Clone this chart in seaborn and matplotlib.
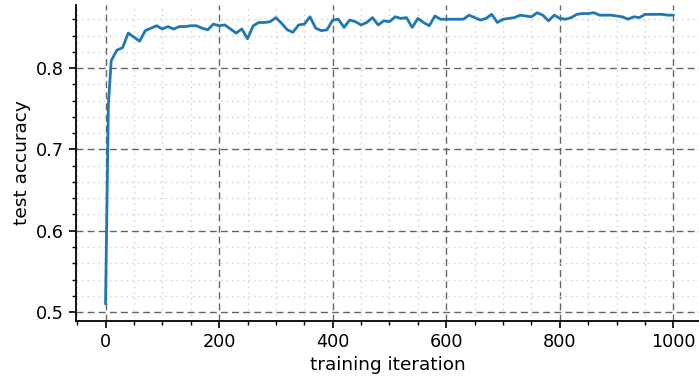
import matplotlib
matplotlib.use("Agg")
import matplotlib.pyplot as plt
import seaborn as sns
import pandas as pd
from matplotlib.ticker import MultipleLocator

iterations = [0, 5] + list(range(10, 1001, 10))
accuracy = [
    0.510, 0.755, 0.809, 0.822, 0.825, 0.843, 0.838, 0.833, 0.846, 0.849,
    0.852, 0.848, 0.851, 0.848, 0.851, 0.851, 0.852, 0.852, 0.849, 0.847,
    0.854, 0.852, 0.853, 0.848, 0.843, 0.848, 0.836, 0.852, 0.856, 0.856,
    0.857, 0.862, 0.855, 0.847, 0.844, 0.853, 0.854, 0.863, 0.849, 0.846,
    0.847, 0.859, 0.860, 0.850, 0.859, 0.857, 0.853, 0.856, 0.862, 0.853,
    0.858, 0.857, 0.863, 0.861, 0.862, 0.850, 0.861, 0.856, 0.852, 0.864,
    0.860, 0.860, 0.860, 0.860, 0.860, 0.865, 0.862, 0.859, 0.861, 0.866,
    0.856, 0.860, 0.861, 0.862, 0.865, 0.864, 0.863, 0.868, 0.865, 0.858,
    0.865, 0.861, 0.860, 0.862, 0.866, 0.867, 0.867, 0.868, 0.865, 0.865,
    0.865, 0.864, 0.863, 0.860, 0.863, 0.862, 0.866, 0.866, 0.866, 0.866,
    0.865, 0.865,
]
x_major_ticks = [0, 200, 400, 600, 800, 1000]
y_major_ticks = [0.5, 0.6, 0.7, 0.8]

df = pd.DataFrame({"training iteration": iterations, "test accuracy": accuracy})

sns.set_style("ticks")
plt.rcParams["font.family"] = ["DejaVu Sans"]
plt.rcParams["text.color"] = "black"
plt.rcParams["axes.labelcolor"] = "black"
plt.rcParams["xtick.color"] = "black"
plt.rcParams["ytick.color"] = "black"

fig = plt.figure(figsize=(6.99, 3.82), dpi=100)
ax = fig.add_axes([76 / 699, 61 / 382, 1 - 76 / 699, (321 - 5) / 382])

sns.lineplot(data=df, x="training iteration", y="test accuracy", ax=ax,
             color="#1f77b4", linewidth=2.0)

ax.set_xlim(-52, 1045)
ax.set_ylim(0.489, 0.8775)
ax.set_xticks(x_major_ticks)
ax.set_yticks(y_major_ticks)
ax.set_yticklabels([f"{v:.1f}" for v in y_major_ticks])
ax.xaxis.set_minor_locator(MultipleLocator(50))
ax.yaxis.set_minor_locator(MultipleLocator(0.02))

ax.grid(which="major", linestyle=(0, (5, 3)), color="#555555", linewidth=1.0, alpha=0.9)
ax.grid(which="minor", linestyle=(0, (1, 3)), color="#d0d0d0", linewidth=1.0)
ax.set_axisbelow(True)

ax.tick_params(which="major", length=5, width=1.2, labelsize=12.7,
               color="black", labelcolor="black")
ax.tick_params(which="minor", length=3, width=1.0, color="black")
for s in ["top", "right"]:
    ax.spines[s].set_visible(False)
for s in ["left", "bottom"]:
    ax.spines[s].set_linewidth(1.3)
    ax.spines[s].set_color("black")

ax.set_xlabel("training iteration", fontsize=13.3, color="black")
ax.set_ylabel("test accuracy", fontsize=13.3, color="black")

fig.savefig("out.png", dpi=100)
